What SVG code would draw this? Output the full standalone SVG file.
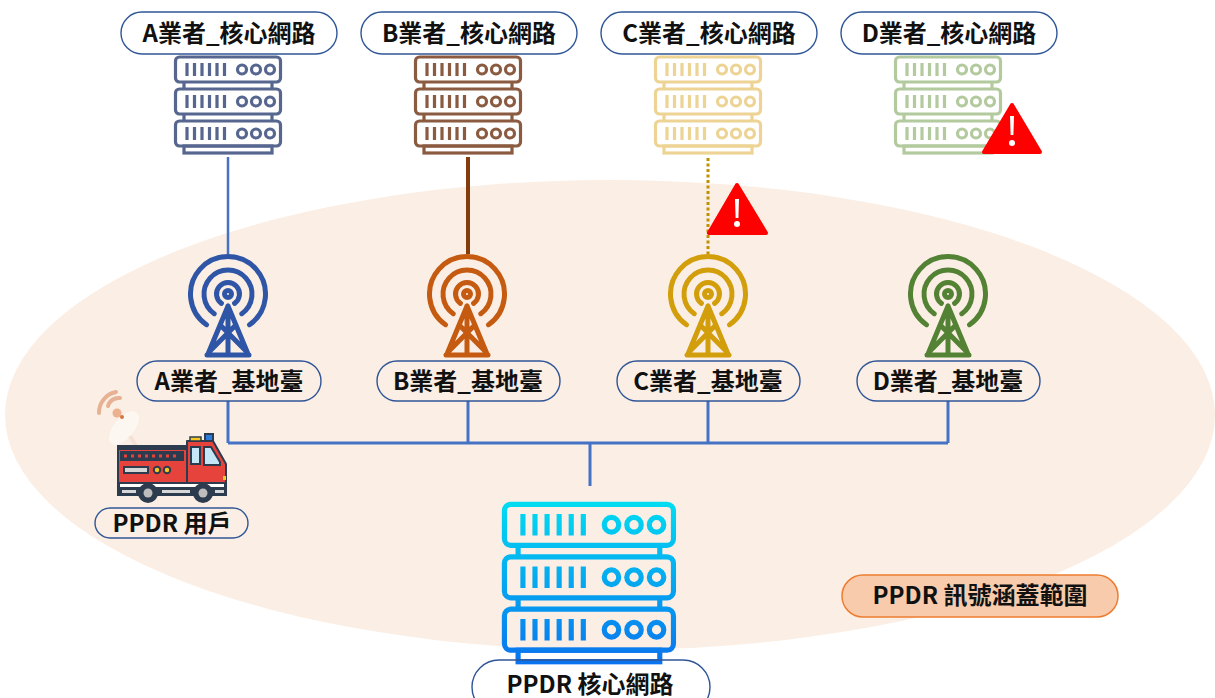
<svg xmlns="http://www.w3.org/2000/svg" width="1215" height="698" viewBox="0 0 1215 698">
  <style>
    .lbl { font-family: "Noto Sans CJK TC", "Noto Sans", sans-serif; font-weight: 700; fill: #111; text-anchor: middle; font-size: 24px; }
    .pill { fill: none; stroke: #2F5597; stroke-width: 1.4; }
    .pillw { fill: #fff; stroke: #2F5597; stroke-width: 1.4; }
    .tower { fill: none; stroke-width: 5; stroke-linecap: round; stroke-linejoin: round; }
    .link { fill: none; stroke: #4472C4; stroke-width: 3; }
    .warn { fill: #FF0000; stroke: #FF0000; stroke-width: 4; stroke-linejoin: round; }
    .dk { stroke: #2D3B4E; stroke-width: 2; }
  </style>
  <defs>
    <linearGradient id="coreGrad" gradientUnits="userSpaceOnUse" x1="0" y1="0" x2="0" y2="100">
      <stop offset="0" stop-color="#00DDF2"/>
      <stop offset="1" stop-color="#0A72EE"/>
    </linearGradient>
    <!-- server stack, 108 x 100, stroke-only so the colour comes from the <use> -->
    <g id="server" fill="none" stroke-width="3.2" stroke-linecap="butt">
      <rect x="1.5" y="2" width="105" height="25" rx="4"/>
      <rect x="1.5" y="34" width="105" height="25" rx="4"/>
      <rect x="1.5" y="66" width="105" height="25" rx="4"/>
      <path d="M10 27v7M98 27v7M10 59v7M98 59v7"/>
      <rect x="10" y="91" width="88" height="7"/>
      <path d="M13 8v13M20.5 8v13M28 8v13M35.5 8v13M43 8v13M50.5 8v13"/>
      <path d="M13 40v13M20.5 40v13M28 40v13M35.5 40v13M43 40v13M50.5 40v13"/>
      <path d="M13 72v13M20.5 72v13M28 72v13M35.5 72v13M43 72v13M50.5 72v13"/>
      <circle cx="68" cy="14.5" r="4.5"/><circle cx="82" cy="14.5" r="4.5"/><circle cx="96" cy="14.5" r="4.5"/>
      <circle cx="68" cy="46.5" r="4.5"/><circle cx="82" cy="46.5" r="4.5"/><circle cx="96" cy="46.5" r="4.5"/>
      <circle cx="68" cy="78.5" r="4.5"/><circle cx="82" cy="78.5" r="4.5"/><circle cx="96" cy="78.5" r="4.5"/>
    </g>
    <!-- radio mast, origin at the centre of the rings -->
    <g id="tower">
      <circle cx="0" cy="0" r="3.5"/>
      <path d="M-6.6 9.4A11.5 11.5 0 1 1 6.6 9.4"/>
      <path d="M-13.8 19.7A24 24 0 1 1 13.8 19.7"/>
      <path d="M-21.5 30.7A37.5 37.5 0 1 1 21.5 30.7"/>
      <path d="M0 12L-20 60M0 12L20 60M0 12V61M-21 61H21M-7.8 31L19 58M7.8 31L-19 58"/>
    </g>
  </defs>

  <!-- coverage area -->
  <ellipse cx="610" cy="415" rx="605" ry="235" fill="#FBEEE4"/>

  <!-- connectors -->
  <g id="connectors">
    <line x1="228" y1="157" x2="228" y2="254" stroke="#4472C4" stroke-width="2.5"/>
    <line x1="468" y1="157" x2="468" y2="254" stroke="#843C0C" stroke-width="4"/>
    <line x1="708" y1="158" x2="708" y2="254" stroke="#BF9000" stroke-width="3" stroke-dasharray="3 2.5"/>
    <path class="link" d="M228 401V443M468 401V443M708 401V443M948 401V443M228 443H948M590 443V486"/>
  </g>

  <!-- operator core networks -->
  <g id="coreA">
    <rect class="pillw" x="121" y="12" width="216" height="42" rx="21"/>
    <text class="lbl" x="229" y="42">A業者_核心網路</text>
    <use href="#server" x="174" y="55" stroke="#56668F"/>
  </g>
  <g id="coreB">
    <rect class="pillw" x="361" y="12" width="216" height="42" rx="21"/>
    <text class="lbl" x="469" y="42">B業者_核心網路</text>
    <use href="#server" x="414" y="55" stroke="#8A5B41"/>
  </g>
  <g id="coreC">
    <rect class="pillw" x="601" y="12" width="216" height="42" rx="21"/>
    <text class="lbl" x="709" y="42">C業者_核心網路</text>
    <use href="#server" x="654" y="55" stroke="#EDD394"/>
  </g>
  <g id="coreD">
    <rect class="pillw" x="841" y="12" width="216" height="42" rx="21"/>
    <text class="lbl" x="949" y="42">D業者_核心網路</text>
    <use href="#server" x="894" y="55" stroke="#B3CA9E"/>
  </g>

  <!-- fault markers -->
  <g id="warnC">
    <path class="warn" d="M737 185L709 233H766Z"/>
    <path d="M735 199h4l-0.6 19h-2.8z" fill="#fff"/>
    <circle cx="737" cy="224" r="3" fill="#fff"/>
  </g>
  <g id="warnD">
    <path class="warn" d="M1012 105L984 152H1040Z"/>
    <path d="M1010 116h4l-0.6 19h-2.8z" fill="#fff"/>
    <circle cx="1012" cy="143" r="3" fill="#fff"/>
  </g>

  <!-- base stations -->
  <g id="siteA">
    <use href="#tower" x="228" y="294" class="tower" stroke="#2F56A6"/>
    <rect class="pill" x="137" y="361" width="184" height="40" rx="20"/>
    <text class="lbl" x="229" y="390">A業者_基地臺</text>
  </g>
  <g id="siteB">
    <use href="#tower" x="467" y="294" class="tower" stroke="#C55A11"/>
    <rect class="pill" x="377" y="361" width="183" height="40" rx="20"/>
    <text class="lbl" x="468" y="390">B業者_基地臺</text>
  </g>
  <g id="siteC">
    <use href="#tower" x="708" y="294" class="tower" stroke="#D39E0C"/>
    <rect class="pill" x="617" y="361" width="183" height="40" rx="20"/>
    <text class="lbl" x="708" y="390">C業者_基地臺</text>
  </g>
  <g id="siteD">
    <use href="#tower" x="948" y="294" class="tower" stroke="#548235"/>
    <rect class="pill" x="857" y="361" width="183" height="40" rx="20"/>
    <text class="lbl" x="948" y="390">D業者_基地臺</text>
  </g>

  <!-- PPDR user: fire engine with radio -->
  <g id="user">
    <g opacity="0.55">
      <ellipse cx="124" cy="428" rx="10" ry="20" transform="rotate(40 124 428)" fill="#fff"/>
      <path d="M130 436L136 446" stroke="#F2D9C8" stroke-width="4"/>
    </g>
    <g fill="none" stroke="#E3A37F" stroke-width="4" stroke-linecap="round" opacity="0.8">
      <path d="M108 406A11 11 0 0 1 120 398"/>
      <path d="M99 413A21 21 0 0 1 116 392"/>
    </g>
    <circle cx="117" cy="413" r="4.5" fill="#E9A67F" opacity="0.85"/>
    <circle cx="122" cy="417" r="2" fill="#D9733F"/>
    <!-- rear body -->
    <rect class="dk" x="118" y="446" width="69" height="38" fill="#E5433B"/>
    <rect x="118" y="446" width="69" height="4" fill="#2D3B4E"/>
    <rect class="dk" x="121" y="452" width="62" height="8" fill="#2D3B4E"/>
    <g fill="#E5433B">
      <rect x="124" y="454.5" width="3" height="3"/><rect x="131" y="454.5" width="3" height="3"/>
      <rect x="138" y="454.5" width="3" height="3"/><rect x="145" y="454.5" width="3" height="3"/>
      <rect x="152" y="454.5" width="3" height="3"/><rect x="159" y="454.5" width="3" height="3"/>
      <rect x="166" y="454.5" width="3" height="3"/><rect x="173" y="454.5" width="3" height="3"/>
    </g>
    <rect class="dk" x="124" y="467" width="24" height="6" fill="#D7D7D7"/>
    <circle class="dk" cx="157" cy="470" r="3.2" fill="#F6C81E"/>
    <circle class="dk" cx="167" cy="470" r="3.2" fill="#F6C81E"/>
    <!-- cab -->
    <path class="dk" d="M187 441H213L226 464V487H187Z" fill="#E5433B" stroke-linejoin="round"/>
    <rect class="dk" x="191" y="447" width="9" height="17" fill="#C5E6F6"/>
    <path class="dk" d="M204 447H211L220 462V465H204Z" fill="#C5E6F6"/>
    <rect class="dk" x="205" y="434" width="8" height="7" fill="#2C7BD8"/>
    <rect x="190" y="437" width="11" height="4" fill="#F6C81E" stroke="#2D3B4E" stroke-width="1.5"/>
    <rect x="223" y="476" width="3" height="4" fill="#F6C81E"/>
    <!-- chassis -->
    <rect x="117" y="482" width="110" height="14" fill="#2D3B4E"/>
    <rect x="120" y="484" width="104" height="3" fill="#fff"/>
    <rect x="122" y="490" width="14" height="3" fill="#D7D7D7"/>
    <rect x="162" y="490" width="28" height="3" fill="#D7D7D7"/>
    <rect x="215" y="490" width="9" height="3" fill="#D7D7D7"/>
    <circle cx="148" cy="493" r="10" fill="#2D3B4E"/>
    <circle cx="148" cy="493" r="4.5" fill="#BDBDBD"/>
    <circle cx="203" cy="493" r="10" fill="#2D3B4E"/>
    <circle cx="203" cy="493" r="4.5" fill="#BDBDBD"/>
    <rect class="pill" x="95" y="508" width="153" height="30" rx="15"/>
    <text class="lbl" x="172" y="532">PPDR 用戶</text>
  </g>

  <!-- PPDR core network -->
  <g id="ppdrCore">
    <use href="#server" transform="translate(502 501) scale(1.61 1.64)" stroke="url(#coreGrad)"/>
    <rect class="pill" x="472" y="660" width="238" height="54" rx="27"/>
    <text class="lbl" x="590" y="693">PPDR 核心網路</text>
  </g>

  <!-- coverage legend -->
  <g id="legend">
    <rect x="842" y="575" width="276" height="42" rx="21" fill="#F8CBAD" stroke="#ED7D31" stroke-width="1.5"/>
    <text class="lbl" x="980" y="604">PPDR 訊號涵蓋範圍</text>
  </g>
</svg>
